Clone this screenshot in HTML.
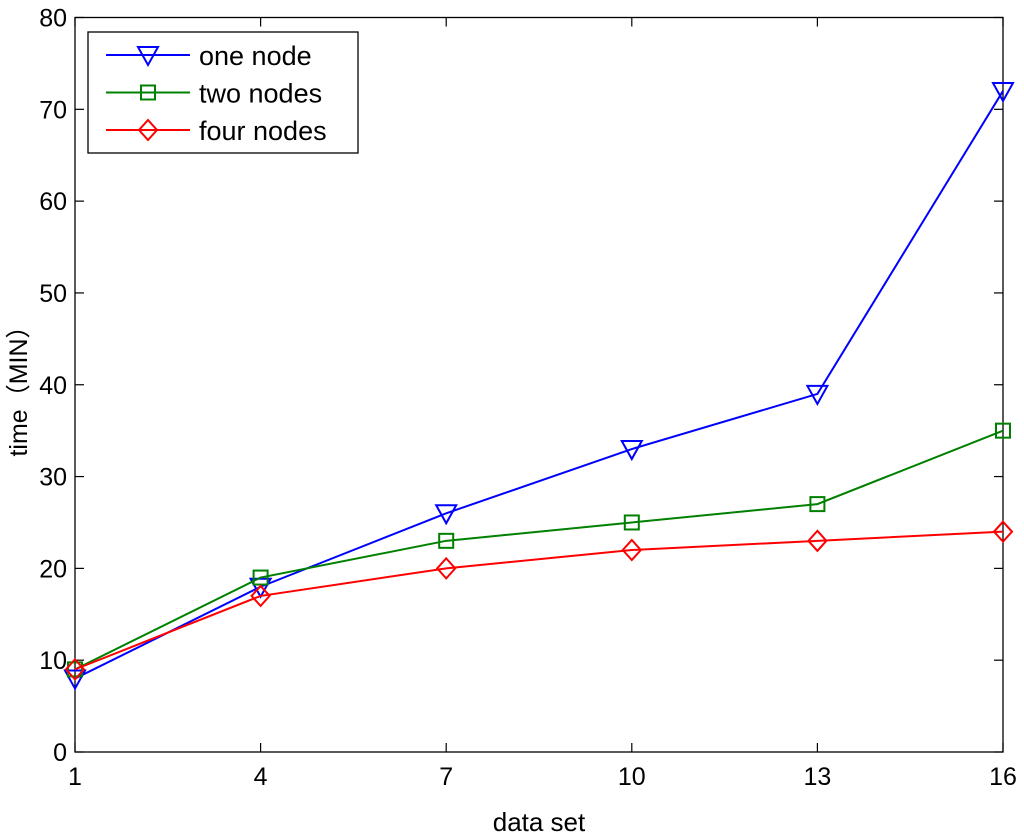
<!DOCTYPE html>
<html><head><meta charset="utf-8"><style>
body{margin:0;background:#fff;}
svg{display:block;font-family:"Liberation Sans","Noto Sans CJK SC",sans-serif;}
</style></head><body>
<svg id="chart" width="1024" height="838" viewBox="0 0 1024 838">
<g id="axes"></g>
<g id="series"></g>
<g id="legend"></g>
</svg>
<script>
const categories = [1, 4, 7, 10, 13, 16];
const oneNode = [8, 18, 26, 33, 39, 72];
const twoNodes = [9, 19, 23, 25, 27, 35];
const fourNodes = [9, 17, 20, 22, 23, 24];
const yTicks = [0, 10, 20, 30, 40, 50, 60, 70, 80];
const seriesNames = ["one node", "two nodes", "four nodes"];

const NS = "http://www.w3.org/2000/svg";
const L = 75, R = 1003, T = 17.5, B = 752;
const xs = v => L + (v - 1) / 15 * (R - L);
const ys = v => B - v / 80 * (B - T);
function mk(tag, attrs, parent) {
  const e = document.createElementNS(NS, tag);
  for (const k in attrs) e.setAttribute(k, attrs[k]);
  parent.appendChild(e);
  return e;
}
const axes = document.getElementById('axes');
const frame = mk('rect', {x: L, y: T, width: R - L, height: B - T, fill: 'none', stroke: '#000', 'stroke-width': 1.3}, axes);


yTicks.forEach(v => {
  const y = ys(v);
  mk('line', {x1: L, x2: L + 9, y1: y, y2: y, stroke: '#000', 'stroke-width': 1.2}, axes);
  mk('line', {x1: R, x2: R - 9, y1: y, y2: y, stroke: '#000', 'stroke-width': 1.2}, axes);
  const t = mk('text', {x: L - 8, y: y + 9, 'text-anchor': 'end', 'font-size': 25}, axes);
  t.textContent = v;
  
  
});
categories.forEach(c => {
  const x = xs(c);
  mk('line', {x1: x, x2: x, y1: B, y2: B - 9, stroke: '#000', 'stroke-width': 1.2}, axes);
  mk('line', {x1: x, x2: x, y1: T, y2: T + 9, stroke: '#000', 'stroke-width': 1.2}, axes);
  const t = mk('text', {x: x, y: B + 33, 'text-anchor': 'middle', 'font-size': 25}, axes);
  t.textContent = c;
  
  
});
const xt = mk('text', {x: 539, y: 831, 'text-anchor': 'middle', 'font-size': 26}, axes);
xt.textContent = 'data set';


const yt = mk('text', {x: 0, y: 0, 'text-anchor': 'middle', 'font-size': 25, transform: 'translate(27,385) rotate(-90)'}, axes);
yt.textContent = 'time（MIN）';



function marker(type, x, y, color, parent) {
  let e;
  if (type === 'tri') e = mk('polygon', {points: `${x-10},${y-8} ${x+10},${y-8} ${x},${y+10}`, fill: 'none', stroke: color, 'stroke-width': 2}, parent);
  else if (type === 'sq') e = mk('rect', {x: x - 7, y: y - 7, width: 14, height: 14, fill: 'none', stroke: color, 'stroke-width': 2}, parent);
  else e = mk('polygon', {points: `${x},${y-10} ${x+9},${y} ${x},${y+10} ${x-9},${y}`, fill: 'none', stroke: color, 'stroke-width': 2}, parent);
  return e;
}
const series = document.getElementById('series');
const defs = [[oneNode, '#0000ff', 'tri'], [twoNodes, '#008000', 'sq'], [fourNodes, '#ff0000', 'dia']];
defs.forEach(([vals, color, m], i) => {
  const g = mk('g', {}, series);
  
  
  const pl = mk('polyline', {points: vals.map((v, j) => xs(categories[j]) + ',' + ys(v)).join(' '), fill: 'none', stroke: color, 'stroke-width': 2}, g);
  
  
  vals.forEach((v, j) => {
    const mm = marker(m, xs(categories[j]), ys(v), color, g);
    
    
  });
});
const legend = document.getElementById('legend');
const lb = mk('rect', {x: 88, y: 32, width: 270, height: 121, fill: '#fff', stroke: '#000', 'stroke-width': 1.3}, legend);


defs.forEach(([vals, color, m], i) => {
  const y = 55 + i * 37.5;
  const g = mk('g', {}, legend);
  
  
  mk('line', {x1: 106, x2: 190, y1: y, y2: y, stroke: color, 'stroke-width': 2}, g);
  marker(m, 148, y, color, g);
  const t = mk('text', {x: 199, y: y + 10, 'font-size': 27}, g);
  t.textContent = seriesNames[i];
});
</script>
</body></html>
